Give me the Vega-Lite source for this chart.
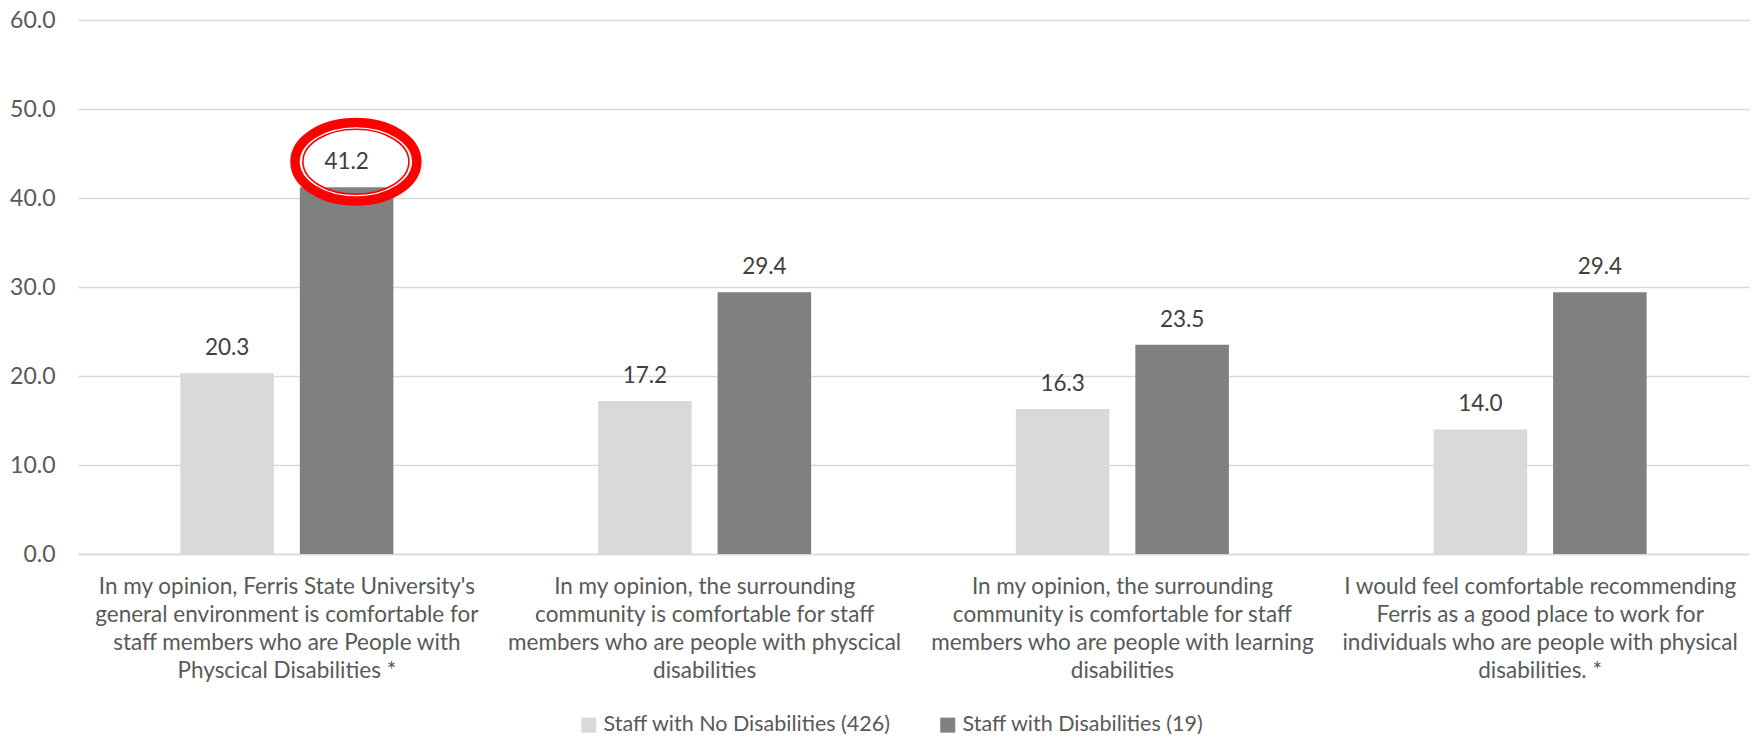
{
  "$schema": "https://vega.github.io/schema/vega-lite/v6.json",
  "width": 1671,
  "height": 534,
  "autosize": {"type": "none"},
  "padding": {"left": 78, "top": 20, "right": 7, "bottom": 186},
  "background": "white",
  "config": {
    "view": {"stroke": null},
    "font": "Lato",
    "axis": {"labelFont": "Lato", "labelColor": "#595959"},
    "legend": {"labelFont": "Lato", "labelColor": "#595959", "labelFontSize": 21.5}
  },
  "data": {
    "values": [
      {"category": "In my opinion, Ferris State University's\ngeneral environment is comfortable for\nstaff members who are People with\nPhyscical Disabilities *", "series": "Staff with No Disabilities (426)", "value": 20.3, "circled": false},
      {"category": "In my opinion, Ferris State University's\ngeneral environment is comfortable for\nstaff members who are People with\nPhyscical Disabilities *", "series": "Staff with Disabilities (19)", "value": 41.2, "circled": true},
      {"category": "In my opinion, the surrounding\ncommunity is comfortable for staff\nmembers who are people with physcical\ndisabilities", "series": "Staff with No Disabilities (426)", "value": 17.2, "circled": false},
      {"category": "In my opinion, the surrounding\ncommunity is comfortable for staff\nmembers who are people with physcical\ndisabilities", "series": "Staff with Disabilities (19)", "value": 29.4, "circled": false},
      {"category": "In my opinion, the surrounding\ncommunity is comfortable for staff\nmembers who are people with learning\ndisabilities", "series": "Staff with No Disabilities (426)", "value": 16.3, "circled": false},
      {"category": "In my opinion, the surrounding\ncommunity is comfortable for staff\nmembers who are people with learning\ndisabilities", "series": "Staff with Disabilities (19)", "value": 23.5, "circled": false},
      {"category": "I would feel comfortable recommending\nFerris as a good place to work for\nindividuals who are people with physical\ndisabilities. *", "series": "Staff with No Disabilities (426)", "value": 14.0, "circled": false},
      {"category": "I would feel comfortable recommending\nFerris as a good place to work for\nindividuals who are people with physical\ndisabilities. *", "series": "Staff with Disabilities (19)", "value": 29.4, "circled": false}
    ]
  },
  "encoding": {
    "x": {
      "field": "category",
      "type": "nominal",
      "sort": [
        "In my opinion, Ferris State University's\ngeneral environment is comfortable for\nstaff members who are People with\nPhyscical Disabilities *",
        "In my opinion, the surrounding\ncommunity is comfortable for staff\nmembers who are people with physcical\ndisabilities",
        "In my opinion, the surrounding\ncommunity is comfortable for staff\nmembers who are people with learning\ndisabilities",
        "I would feel comfortable recommending\nFerris as a good place to work for\nindividuals who are people with physical\ndisabilities. *"
      ],
      "scale": {"paddingInner": 0.49, "paddingOuter": 0.245},
      "axis": {
        "title": null,
        "labelAngle": 0,
        "labelFontSize": 22.5,
        "labelExpr": "split(datum.label, '\\n')",
        "labelLineHeight": 28.3,
        "labelBaseline": "top",
        "labelPadding": 21,
        "labelLimit": 0,
        "ticks": false,
        "domain": true,
        "domainColor": "#D9D9D9",
        "domainWidth": 1.5
      }
    },
    "y": {
      "field": "value",
      "type": "quantitative",
      "scale": {"domain": [0, 60], "nice": false},
      "axis": {
        "title": null,
        "labelFontSize": 23,
        "values": [0, 10, 20, 30, 40, 50, 60],
        "format": ".1f",
        "domain": false,
        "ticks": false,
        "grid": true,
        "gridColor": "#D9D9D9",
        "gridWidth": 1.4,
        "labelPadding": 23
      }
    }
  },
  "layer": [
    {
      "mark": {"type": "bar"},
      "encoding": {
        "xOffset": {
          "field": "series",
          "type": "nominal",
          "sort": ["Staff with No Disabilities (426)", "Staff with Disabilities (19)"],
          "scale": {"paddingInner": 0.217, "paddingOuter": 0}
        },
        "color": {
          "field": "series",
          "type": "nominal",
          "sort": ["Staff with No Disabilities (426)", "Staff with Disabilities (19)"],
          "scale": {"domain": ["Staff with No Disabilities (426)", "Staff with Disabilities (19)"], "range": ["#D9D9D9", "#808080"]},
          "legend": {
            "title": null,
            "orient": "none",
            "legendX": 500,
            "legendY": 694,
            "direction": "horizontal",
            "symbolType": "square",
            "symbolSize": 225,
            "symbolStrokeWidth": 0,
            "labelOffset": 4,
            "labelLimit": 0,
            "columnPadding": 46
          }
        }
      }
    },
    {
      "mark": {"type": "text", "baseline": "alphabetic", "align": "center", "yOffset": -18, "fontSize": 22.5, "color": "#404040", "font": "Lato"},
      "encoding": {
        "xOffset": {
          "field": "series",
          "type": "nominal",
          "sort": ["Staff with No Disabilities (426)", "Staff with Disabilities (19)"],
          "scale": {"paddingInner": 0.217, "paddingOuter": 0}
        },
        "text": {"field": "value", "type": "quantitative", "format": ".1f"}
      }
    },
    {
      "transform": [{"filter": "datum.circled"}],
      "mark": {"type": "point", "filled": false, "opacity": 1, "stroke": "#FFFFFF", "strokeWidth": 3, "size": 11881, "yOffset": -25.6,
        "shape": "M -1 0 C -1 -0.345 -0.552 -0.625 0 -0.625 C 0.552 -0.625 1 -0.345 1 0 C 1 0.345 0.552 0.625 0 0.625 C -0.552 0.625 -1 0.345 -1 0 Z"},
      "encoding": {"x": {"field": "category", "type": "nominal", "bandPosition": 0.824}}
    },
    {
      "transform": [{"filter": "datum.circled"}],
      "mark": {"type": "point", "filled": false, "opacity": 1, "stroke": "#FF0000", "strokeWidth": 9.5, "size": 14835, "yOffset": -25.6,
        "shape": "M -1 0 C -1 -0.356 -0.552 -0.644 0 -0.644 C 0.552 -0.644 1 -0.356 1 0 C 1 0.356 0.552 0.644 0 0.644 C -0.552 0.644 -1 0.356 -1 0 Z"},
      "encoding": {"x": {"field": "category", "type": "nominal", "bandPosition": 0.824}}
    },
    {
      "transform": [{"filter": "datum.circled"}],
      "mark": {"type": "point", "filled": false, "opacity": 1, "stroke": "#FF0000", "strokeWidth": 1.6, "size": 11236, "yOffset": -25.6,
        "shape": "M -1 0 C -1 -0.339 -0.552 -0.613 0 -0.613 C 0.552 -0.613 1 -0.339 1 0 C 1 0.339 0.552 0.613 0 0.613 C -0.552 0.613 -1 0.339 -1 0 Z"},
      "encoding": {"x": {"field": "category", "type": "nominal", "bandPosition": 0.824}}
    }
  ]
}
